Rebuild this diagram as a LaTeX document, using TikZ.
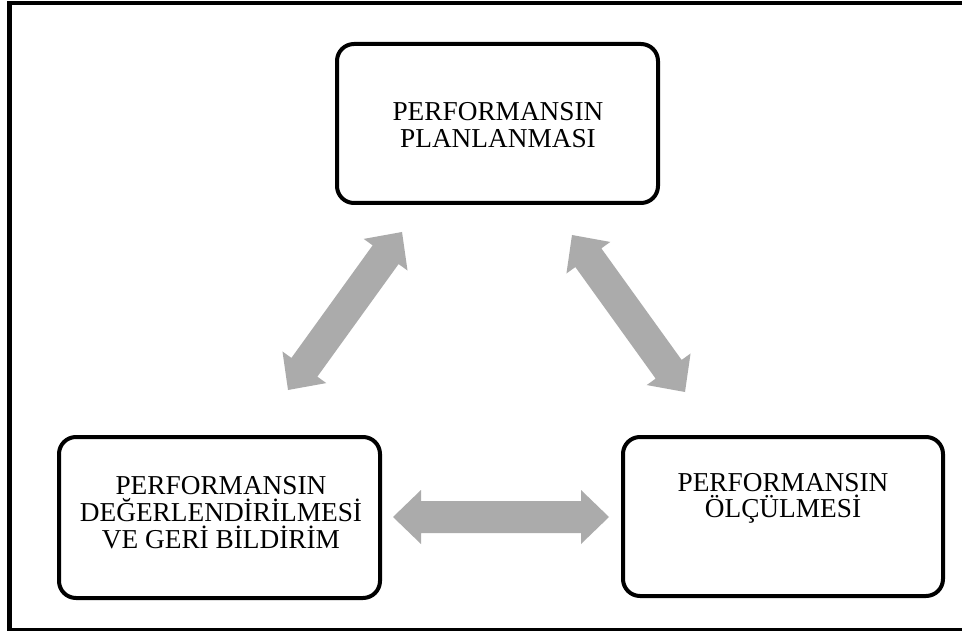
\documentclass[tikz,border=0pt]{standalone}
\usepackage{fontspec}
\setmainfont{Liberation Serif}
\usetikzlibrary{calc}
\tikzset{
  boxst/.style={draw=black, line width=4pt, rounded corners=17pt, fill=white, inner sep=0pt},
  txt/.style={align=center, font=\fontsize{27.3}{26.7}\selectfont, inner sep=0pt},
  arrowfill/.style={fill=black!33},
}
\newcommand{\dblarr}[2]{%
  \path ($(#1)!28pt!(#2)$) coordinate (h1) ($(#2)!28pt!(#1)$) coordinate (h2);
  \fill[arrowfill] (#1) -- ($(h1)!27pt!90:(#2)$) -- ($(h1)!16pt!90:(#2)$)
    -- ($(h2)!16pt!-90:(#1)$) -- ($(h2)!27pt!-90:(#1)$) -- (#2)
    -- ($(h2)!27pt!90:(#1)$) -- ($(h2)!16pt!90:(#1)$)
    -- ($(h1)!16pt!-90:(#2)$) -- ($(h1)!27pt!-90:(#2)$) -- cycle;}
\begin{document}
\begin{tikzpicture}[x=1pt, y=-1pt]
\useasboundingbox (0,0) rectangle (962,631);
\clip (0,0) rectangle (962,631);
\fill[white] (0,0) rectangle (962,631);
\draw[line width=4.5pt] (9.5,3) rectangle (980,630.5);
% boxes
\node[boxst, minimum width=321pt, minimum height=159pt] (plan) at (497.5,123.5) {};
\node[txt] (plant) at (498,125) {PERFORMANSIN\\PLANLANMASI};
\node[boxst, minimum width=321pt, minimum height=161pt] (deg) at (219.5,517.5) {};
\node[txt] (degt) at (221,512.5) {PERFORMANSIN\\DEĞERLENDİRİLMESİ\\VE GERİ BİLDİRİM};
\node[boxst, minimum width=320pt, minimum height=159pt] (olc) at (783,516.5) {};
\node[txt] (olct) at (783,498.5) {PERFORMANSIN\\ÖLÇÜLMESİ};
% arrow tips
\coordinate (a1) at (402,232);
\coordinate (a2) at (288,390);
\coordinate (b1) at (572,235);
\coordinate (b2) at (685,392);
\coordinate (c1) at (393,517);
\coordinate (c2) at (609,517);
\dblarr{a1}{a2}
\dblarr{b1}{b2}
\dblarr{c1}{c2}
\end{tikzpicture}
\end{document}
